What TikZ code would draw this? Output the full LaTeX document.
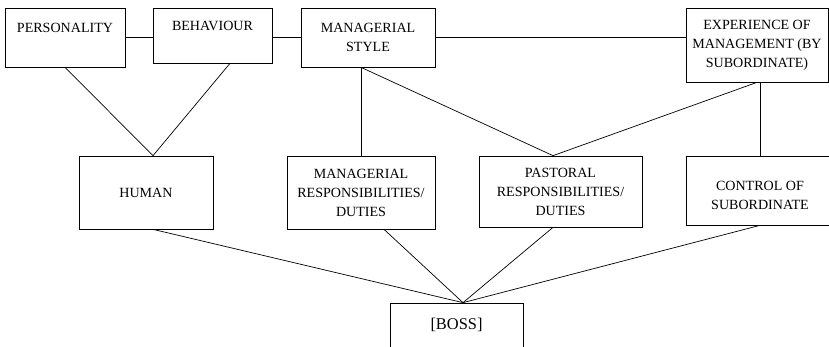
\documentclass[tikz,border=0pt]{standalone}
\usepackage{fontspec}
\setmainfont{Liberation Serif}
\tikzset{
  box/.style={draw, line width=0.6pt, inner sep=0pt, align=center,
    font=\fontsize{12}{16.2}\selectfont},
  link/.style={line width=0.6pt}
}
\begin{document}
\begin{tikzpicture}
  \useasboundingbox (0,0) rectangle (24.870000,10.380000);
  \clip (0,0) rectangle (24.870000,10.380000);

  % Drawing boxes of top row
  \node [box, minimum width=3.600000cm, minimum height=1.770000cm] (pers) at (1.950000,9.255000) {PERSONALITY\\ \mbox{}};
  \node [box, minimum width=3.570000cm, minimum height=1.650000cm] (beh) at (6.375000,9.315000) {BEHAVIOUR\\ \mbox{}};
  \node [box, minimum width=4.020000cm, minimum height=1.770000cm] (mstyle) at (11.040000,9.255000) {MANAGERIAL\\STYLE};
  \node [box, minimum width=4.260000cm, minimum height=2.220000cm] (exp) at (22.710000,9.030000) {EXPERIENCE OF\\MANAGEMENT (BY\\SUBORDINATE)};

  % Drawing boxes of middle row
  \node [box, minimum width=4.020000cm, minimum height=2.190000cm] (human) at (4.380000,4.605000) {HUMAN};
  \node [box, minimum width=4.440000cm, minimum height=2.190000cm] (mresp) at (10.830000,4.605000) {MANAGERIAL\\RESPONSIBILITIES/\\DUTIES};
  \node [box, minimum width=4.890000cm, minimum height=2.130000cm] (past) at (16.815000,4.635000) {PASTORAL\\RESPONSIBILITIES/\\DUTIES};
  \node [box, minimum width=4.440000cm, minimum height=2.070000cm] (ctrl) at (22.800000,4.665000) {\mbox{}\\CONTROL OF\\SUBORDINATE};

  % Drawing box BOSS
  \node [box, minimum width=3.990000cm, minimum height=1.800000cm] (boss) at (13.695000,0.390000) {\fontsize{14}{16.2}\selectfont[BOSS]\\ \mbox{}};
  \coordinate (bosstop) at ([xshift=0.195000cm]boss.north);

  % Drawing lines of top row
  \draw [link] (pers.east) -- (pers.east -| beh.west);
  \draw [link] (beh.east |- mstyle.west) -- (mstyle.west);
  \draw [link] (mstyle.east) -- (mstyle.east -| exp.west);

  % Drawing lines down to middle row
  \draw [link] (pers.south) -- ([xshift=0.210000cm]human.north);
  \draw [link] ([xshift=0.525000cm]beh.south) -- ([xshift=0.210000cm]human.north);
  \draw [link] (mresp.north |- mstyle.south) -- (mresp.north);
  \draw [link] (mresp.north |- mstyle.south) -- ([xshift=-0.225000cm]past.north);
  \draw [link] (exp.south) -- ([xshift=-0.225000cm]past.north);
  \draw [link] (ctrl.north |- exp.south) -- (ctrl.north);

  % Drawing lines down to BOSS
  \draw [link] ([xshift=0.210000cm]human.south) -- (bosstop);
  \draw [link] ([xshift=0.690000cm]mresp.south) -- (bosstop);
  \draw [link] ([xshift=-0.225000cm]past.south) -- (bosstop);
  \draw [link] (ctrl.south) -- (bosstop);
\end{tikzpicture}
\end{document}
